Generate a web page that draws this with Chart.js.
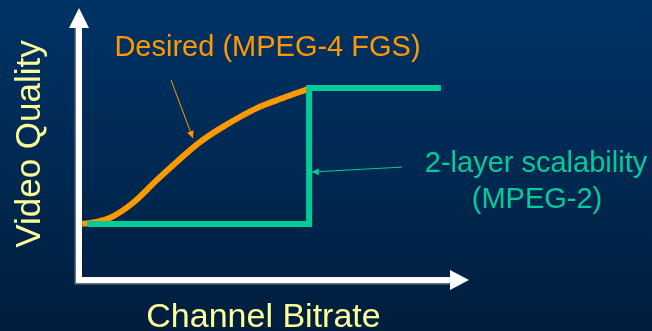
<!DOCTYPE html>
<html>
<head>
<meta charset="utf-8">
<title>Video Quality vs Channel Bitrate</title>
<script src="https://cdn.jsdelivr.net/npm/chart.js@4/dist/chart.umd.min.js"></script>
<style>
  html, body { margin: 0; padding: 0; background: #002a55; overflow: hidden; }
  canvas { display: block; }
</style>
</head>
<body>
<canvas id="chart" width="652" height="331"></canvas>
<script>
// Bitrate positions (arbitrary units, 0..10) and quality values (0..10)
const fgsBitrate = [0.08, 0.41, 0.79, 1.38, 2.00, 2.59, 3.10, 3.69, 4.56, 5.23, 5.87];
const fgsQuality = [2.06, 2.13, 2.28, 2.83, 3.68, 4.45, 5.07, 5.63, 6.32, 6.69, 7.02];

const layerBitrate = [0.21, 5.90, 5.90, 9.28];
const layerQuality = [2.06, 2.06, 7.06, 7.06];

// Callout labels and the point each pointer line aims at
const fgsLabel = 'Desired (MPEG-4 FGS)';
const layerLabel = ['2-layer scalability', '(MPEG-2)'];
const fgsPointer = { from: [2.36, 7.35], to: [2.92, 5.22] };
const layerPointer = { from: [8.28, 4.15], to: [5.97, 3.97] };

const xTitle = 'Channel Bitrate';
const yTitle = 'Video Quality';

const ORANGE = '#FF9900';
const GREEN = '#00CC99';
const YELLOW = '#FFFF99';
const FONT = '"Liberation Sans", Arial, sans-serif';

const toPoints = (xs, ys) => xs.map((x, i) => ({ x, y: ys[i] }));

function arrowHead(ctx, x1, y1, x2, y2, len, half) {
  const a = Math.atan2(y2 - y1, x2 - x1);
  ctx.beginPath();
  ctx.moveTo(x2, y2);
  ctx.lineTo(x2 - len * Math.cos(a) + half * Math.sin(a), y2 - len * Math.sin(a) - half * Math.cos(a));
  ctx.lineTo(x2 - len * Math.cos(a) - half * Math.sin(a), y2 - len * Math.sin(a) + half * Math.cos(a));
  ctx.closePath();
  ctx.fill();
}

const slideBackground = {
  id: 'slideBackground',
  beforeDraw(chart) {
    const { ctx, width, height } = chart;
    const g = ctx.createLinearGradient(0, 0, 0, height);
    g.addColorStop(0, '#003366');
    g.addColorStop(1, '#001e3e');
    ctx.save();
    ctx.fillStyle = g;
    ctx.fillRect(0, 0, width, height);
    ctx.restore();
  }
};

// White axes with arrow heads along the left and bottom of the plot area
const arrowAxes = {
  id: 'arrowAxes',
  beforeDatasetsDraw(chart) {
    const { ctx, chartArea: a } = chart;
    const x0 = a.left, y0 = a.bottom;
    ctx.save();
    ctx.fillStyle = '#ffffff';
    ctx.strokeStyle = '#ffffff';
    ctx.lineWidth = 6;
    ctx.shadowColor = 'rgba(150,150,150,0.7)';
    ctx.shadowOffsetX = -1.5;
    ctx.shadowOffsetY = 1.5;
    ctx.beginPath();
    ctx.moveTo(x0, a.top + 18);
    ctx.lineTo(x0, y0);
    ctx.lineTo(a.right - 18, y0);
    ctx.stroke();
    ctx.shadowColor = 'transparent';
    arrowHead(ctx, x0, a.top + 30, x0, a.top, 20, 10);
    arrowHead(ctx, a.right - 30, y0, a.right, y0, 19, 10);
    ctx.restore();
  }
};

const callouts = {
  id: 'callouts',
  afterDatasetsDraw(chart) {
    const { ctx } = chart;
    const xs = chart.scales.x, ys = chart.scales.y;
    const px = p => [xs.getPixelForValue(p[0]), ys.getPixelForValue(p[1])];
    ctx.save();

    // pointer lines
    [[fgsPointer, ORANGE], [layerPointer, GREEN]].forEach(([p, c]) => {
      const [x1, y1] = px(p.from), [x2, y2] = px(p.to);
      ctx.strokeStyle = c;
      ctx.fillStyle = c;
      ctx.lineWidth = 1;
      ctx.beginPath();
      ctx.moveTo(x1, y1);
      ctx.lineTo(x2, y2);
      ctx.stroke();
      arrowHead(ctx, x1, y1, x2, y2, 7, 3.5);
    });

    ctx.textAlign = 'center';
    ctx.textBaseline = 'alphabetic';

    ctx.font = '29px ' + FONT;
    ctx.fillStyle = ORANGE;
    ctx.fillText(fgsLabel, 267.5, 56);

    ctx.fillStyle = GREEN;
    ctx.fillText(layerLabel[0], 536, 172);
    ctx.fillText(layerLabel[1], 537, 208);

    ctx.font = '34px ' + FONT;
    ctx.fillStyle = YELLOW;
    ctx.fillText(xTitle, 263.5, 327);

    ctx.save();
    ctx.translate(40, 144);
    ctx.rotate(-Math.PI / 2);
    ctx.font = '35px ' + FONT;
    ctx.fillText(yTitle, 0, 0);
    ctx.restore();

    ctx.restore();
  }
};

new Chart(document.getElementById('chart'), {
  type: 'line',
  data: {
    datasets: [
      {
        label: layerLabel.join(' '),
        data: toPoints(layerBitrate, layerQuality),
        borderColor: GREEN,
        borderWidth: 6,
        borderCapStyle: 'butt',
        borderJoinStyle: 'miter',
        pointRadius: 0,
        tension: 0,
        fill: false,
        order: 0
      },
      {
        label: fgsLabel,
        data: toPoints(fgsBitrate, fgsQuality),
        borderColor: ORANGE,
        borderWidth: 6,
        borderCapStyle: 'butt',
        pointRadius: 0,
        cubicInterpolationMode: 'monotone',
        fill: false,
        order: 1
      }
    ]
  },
  options: {
    responsive: false,
    animation: false,
    events: [],
    layout: { padding: { left: 79, right: 183, top: 8, bottom: 51 } },
    scales: {
      x: { type: 'linear', min: 0, max: 10, display: false },
      y: { type: 'linear', min: 0, max: 10, display: false }
    },
    plugins: {
      legend: { display: false },
      tooltip: { enabled: false }
    }
  },
  plugins: [slideBackground, arrowAxes, callouts]
});
</script>
</body>
</html>
